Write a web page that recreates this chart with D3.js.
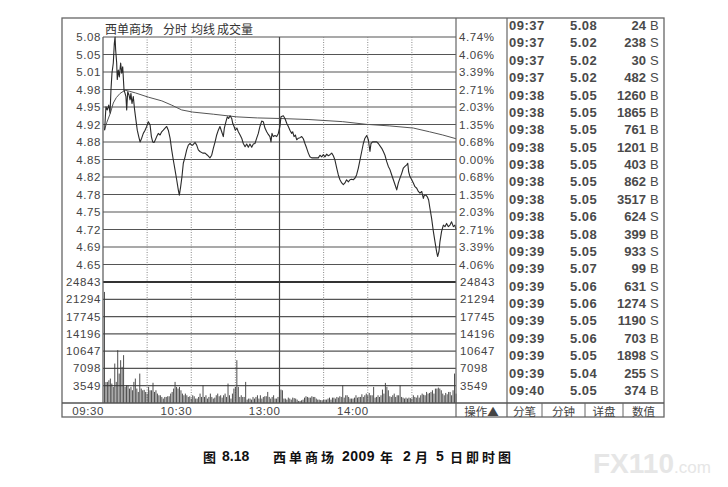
<!DOCTYPE html>
<html>
<head>
<meta charset="utf-8">
<script src="https://cdn.jsdelivr.net/npm/d3@7"></script>
<style>
  body { margin: 0; background: #fff; }
  svg { display: block; font-family: "Liberation Sans", Arial, sans-serif; }
</style>
</head>
<body>
<div id="chart"></div>
<script>
// ---- data ----
const prevClose = 4.85;
const maxPct = 4.74;

const priceLabels = ["5.08","5.05","5.01","4.98","4.95","4.92","4.88","4.85","4.82","4.78","4.75","4.72","4.69","4.65"];
const pctLabels = ["4.74%","4.06%","3.39%","2.71%","2.03%","1.35%","0.68%","0.00%","0.68%","1.35%","2.03%","2.71%","3.39%","4.06%"];
const volTicks = [3549, 7098, 10647, 14196, 17745, 21294, 24843];
const timeTicks = [0, 60, 120, 180];
const timeLabels = ["09:30", "10:30", "13:00", "14:00"];
const gridMinutes = [30, 60, 90, 120, 150, 180, 210];

// minute (from 09:30) and price of the intraday line
const priceMin = [1.1,2.0,2.9,3.9,4.8,5.4,6.1,7.0,7.7,8.2,8.6,9.3,9.7,10.4,11.1,12.0,12.7,13.4,14.3,15.0,15.6,16.1,16.8,17.7,18.4,19.0,19.7,20.6,21.5,22.4,23.3,24.3,25.2,26.3,27.4,28.6,29.7,30.8,32.0,32.9,33.8,34.7,35.6,36.5,37.6,38.8,39.9,41.0,42.2,43.3,44.4,45.6,46.7,47.8,49.0,50.1,51.2,51.9,52.8,53.7,54.6,55.8,56.9,58.0,59.2,60.3,61.0,62.6,63.7,64.8,65.9,67.8,69.4,71.0,72.7,73.9,75.0,76.2,77.3,78.4,79.5,80.7,81.8,82.5,83.6,84.5,85.4,86.4,87.5,88.2,89.1,90.0,91.0,92.0,93.2,94.3,95.4,96.6,97.7,98.8,99.9,101.1,102.2,103.3,104.5,105.6,106.7,107.9,109.0,110.1,111.3,112.4,113.5,114.2,114.9,115.8,116.9,118.1,119.2,120.3,121.0,122.6,123.7,124.9,126.0,127.1,128.3,129.0,129.9,130.8,131.7,132.8,133.9,135.1,136.2,137.3,138.5,139.6,140.7,141.9,144.1,146.4,147.5,148.7,149.8,150.9,152.1,153.2,154.3,155.5,156.6,157.7,158.9,160.0,161.1,162.3,163.4,164.5,165.6,166.8,167.9,169.0,170.2,171.3,172.4,173.6,174.7,175.9,177.0,178.1,179.3,180.4,181.5,182.2,183.3,186.1,187.2,189.5,190.6,191.7,192.9,194.0,195.1,196.3,197.4,198.5,199.7,200.8,201.9,203.1,204.2,205.3,206.5,207.2,207.8,208.7,209.9,211.0,212.1,213.3,214.4,215.5,216.7,217.8,218.5,219.6,220.5,221.4,222.3,223.4,224.6,225.7,226.8,227.5,228.4,229.1,230.2,231.4,232.5,233.6,234.8,235.9,237.0,238.2,239.3,240];
const priceVal = [4.905,4.949,4.943,4.952,4.937,4.980,5.012,5.031,5.068,5.080,5.056,5.031,5.000,5.018,5.005,5.031,5.012,5.024,4.980,4.974,4.968,4.943,4.977,4.971,4.962,4.974,4.955,4.968,4.943,4.924,4.905,4.893,4.883,4.890,4.899,4.905,4.912,4.921,4.915,4.893,4.883,4.882,4.887,4.893,4.899,4.896,4.902,4.905,4.909,4.912,4.905,4.890,4.868,4.849,4.830,4.812,4.793,4.783,4.799,4.818,4.843,4.855,4.868,4.877,4.880,4.877,4.877,4.882,4.877,4.868,4.865,4.862,4.862,4.858,4.853,4.858,4.871,4.883,4.896,4.905,4.912,4.902,4.893,4.909,4.921,4.930,4.927,4.932,4.927,4.918,4.912,4.905,4.909,4.902,4.896,4.890,4.880,4.874,4.879,4.873,4.879,4.873,4.879,4.880,4.890,4.899,4.912,4.922,4.921,4.909,4.902,4.897,4.893,4.883,4.899,4.893,4.895,4.893,4.899,4.912,4.930,4.932,4.927,4.918,4.912,4.905,4.899,4.902,4.893,4.896,4.887,4.890,4.891,4.893,4.889,4.880,4.871,4.862,4.855,4.853,4.853,4.853,4.858,4.855,4.859,4.855,4.860,4.857,4.859,4.862,4.857,4.849,4.834,4.821,4.812,4.806,4.803,4.806,4.812,4.808,4.812,4.813,4.812,4.815,4.821,4.834,4.849,4.865,4.880,4.890,4.895,4.887,4.865,4.880,4.883,4.883,4.880,4.871,4.865,4.858,4.846,4.837,4.831,4.821,4.812,4.803,4.793,4.806,4.815,4.824,4.834,4.837,4.840,4.843,4.827,4.818,4.812,4.806,4.799,4.796,4.790,4.787,4.790,4.777,4.783,4.783,4.780,4.774,4.758,4.740,4.715,4.696,4.677,4.668,4.677,4.696,4.715,4.727,4.724,4.730,4.724,4.727,4.733,4.724,4.727,4.718];

// average price line (均线)
const avgMin = [1,2.5,5,7,9,11.6,15,18,22,30.8,40,46.7,53.5,61,75,91,105,120,140,163,179,195,211,222,231,240];
const avgVal = [4.905,4.919,4.937,4.956,4.966,4.974,4.980,4.978,4.975,4.967,4.960,4.952,4.943,4.939,4.935,4.930,4.928,4.927,4.925,4.921,4.916,4.913,4.909,4.902,4.896,4.889];

// volume per minute (成交量)
const volumes = [
  22800,4300,4330,4670,5015,3990,3300,8100,4330,10850,
  6040,8790,7415,9820,3300,3640,3640,2960,3300,2620,
  4330,5015,2960,2270,6040,2960,2610,2700,2270,1930,
  3300,2610,2610,4150,2270,2610,1930,1585,1585,1240,
  905,1240,1240,1380,1380,1930,2270,2960,4330,3300,
  2960,3300,2610,1930,1585,1930,1585,1240,1380,905,
  1585,1380,905,905,1240,1930,1240,3640,1240,1585,
  905,1240,1930,1240,905,1105,1585,1930,1380,1585,
  1105,1585,1930,1240,3990,1585,905,1930,2960,3300,
  8790,3300,1240,1585,1240,1240,4330,694,905,905,
  694,1240,905,1240,1585,905,1585,905,1240,1380,
  1385,2270,1240,905,1240,1585,905,905,1240,905,
  2750,2610,905,905,694,1105,905,694,1105,1000,
  905,694,420,420,556,694,1105,1380,1240,1105,
  1105,1380,1240,1240,905,694,694,600,556,694,
  694,694,905,1105,694,1105,1105,905,1240,1105,
  1380,1240,3640,1105,1585,1585,1240,905,905,905,
  1105,1585,1105,1240,1240,1790,1240,1585,1930,1585,
  2065,1585,1585,3300,1105,1240,1585,1240,1585,2750,
  1930,4120,3300,2610,1380,1240,1585,1930,1240,1585,
  1585,3640,1240,1105,905,1105,905,1105,1000,905,
  1585,1240,1105,1585,1105,1585,1930,1700,1585,2270,
  1930,2065,2270,2614,1930,2957,2957,3163,2957,2614,
  1930,1585,2065,1790,2270,2270,1585,2614,6044,1928
];

// tick-by-tick table (分笔)
const tradeTime = ["09:37","09:37","09:37","09:37","09:38","09:38","09:38","09:38","09:38","09:38","09:38","09:38","09:38","09:39","09:39","09:39","09:39","09:39","09:39","09:39","09:39","09:40"];
const tradePrice = ["5.08","5.02","5.02","5.02","5.05","5.05","5.05","5.05","5.05","5.05","5.05","5.06","5.08","5.05","5.07","5.06","5.06","5.05","5.06","5.05","5.04","5.05"];
const tradeVol = [24,238,30,482,1260,1865,761,1201,403,862,3517,624,399,933,99,631,1274,1190,703,1898,255,374];
const tradeSide = ["B","S","S","S","B","B","B","B","B","B","B","S","B","S","B","S","S","S","B","S","S","B"];

const titleParts = ["西单商场", "分时", "均线", "成交量"];
const buttons = ["分笔", "分钟", "详盘", "数值"];

// ---- layout ----
const W = 728, H = 487;
const frame = {left: 62, top: 18, right: 664, bottom: 417};
const plot = {left: 103, right: 456, top: 37, mid: 282, volBottom: 403};
const tableLeft = 507;
const ink = "#444";

const svg = d3.select("#chart").append("svg")
  .attr("width", W).attr("height", H);

const x = d3.scaleLinear().domain([0, 240]).range([plot.left, plot.right]);
const yP = d3.scaleLinear()
  .domain([prevClose * (1 - maxPct / 100), prevClose * (1 + maxPct / 100)])
  .range([plot.mid, plot.top]);
const yV = d3.scaleLinear().domain([0, 24843]).range([plot.volBottom, plot.mid]);

// price grid levels, top to bottom
const levels = d3.range(7, -7, -1).map(k => prevClose * (1 + k * maxPct / 700));

// horizontal grid
svg.append("g").selectAll("line")
  .data(levels)
  .enter().append("line")
  .attr("x1", plot.left).attr("x2", plot.right)
  .attr("y1", d => yP(d)).attr("y2", d => yP(d))
  .attr("stroke", "#555").attr("stroke-width", 1.2);

svg.append("g").selectAll("line")
  .data(volTicks.slice(0, -1))
  .enter().append("line")
  .attr("x1", plot.left).attr("x2", plot.right)
  .attr("y1", d => yV(d)).attr("y2", d => yV(d))
  .attr("stroke", "#555").attr("stroke-width", 1.2);

// vertical grid
svg.append("g").selectAll("line")
  .data(gridMinutes)
  .enter().append("line")
  .attr("x1", d => x(d)).attr("x2", d => x(d))
  .attr("y1", plot.top).attr("y2", plot.volBottom)
  .attr("stroke", d => d === 120 ? "#444" : "#888")
  .attr("stroke-width", d => d === 120 ? 1.2 : 1)
  .attr("stroke-dasharray", d => d === 120 ? null : "1,1.5");

// divider between price and volume
svg.append("line")
  .attr("x1", plot.left).attr("x2", plot.right)
  .attr("y1", plot.mid).attr("y2", plot.mid)
  .attr("stroke", "#333").attr("stroke-width", 2.2);

// volume bars
svg.append("g").selectAll("line")
  .data(volumes)
  .enter().append("line")
  .attr("x1", (d, i) => x(i + 1)).attr("x2", (d, i) => x(i + 1))
  .attr("y1", yV(0)).attr("y2", d => yV(d))
  .attr("stroke", "#3a3a3a").attr("stroke-width", 0.9);

// average line
const avgData = avgMin.map((m, i) => [m, avgVal[i]]);
svg.append("path")
  .datum(avgData)
  .attr("fill", "none").attr("stroke", "#555").attr("stroke-width", 1)
  .attr("d", d3.line().x(d => x(d[0])).y(d => yP(d[1])));

// price line
const priceData = priceMin.map((m, i) => [m, priceVal[i]]);
svg.append("path")
  .datum(priceData)
  .attr("fill", "none").attr("stroke", "#2a2a2a").attr("stroke-width", 1.1)
  .attr("stroke-linejoin", "round")
  .attr("d", d3.line().x(d => x(d[0])).y(d => yP(d[1])));

// frame and panel lines
svg.append("rect")
  .attr("x", frame.left).attr("y", frame.top)
  .attr("width", frame.right - frame.left).attr("height", frame.bottom - frame.top)
  .attr("fill", "none").attr("stroke", "#666").attr("stroke-width", 1.3);
svg.append("line")
  .attr("x1", plot.left).attr("x2", plot.left).attr("y1", plot.top).attr("y2", plot.volBottom)
  .attr("stroke", "#555").attr("stroke-width", 1.2);
[plot.right, tableLeft].forEach(v => {
  svg.append("line")
    .attr("x1", v).attr("x2", v).attr("y1", frame.top).attr("y2", frame.bottom)
    .attr("stroke", "#666").attr("stroke-width", 1.2);
});
svg.append("line")
  .attr("x1", frame.left).attr("x2", frame.right).attr("y1", plot.volBottom).attr("y2", plot.volBottom)
  .attr("stroke", "#555").attr("stroke-width", 1.3);

// axis labels
const axisFont = g => g.attr("font-size", 11.5).attr("fill", ink)
  .attr("letter-spacing", 0.6).attr("dominant-baseline", "central");

svg.append("g").call(axisFont).selectAll("text")
  .data(levels)
  .enter().append("text")
  .attr("x", plot.left - 2).attr("y", d => yP(d))
  .attr("text-anchor", "end")
  .text((d, i) => priceLabels[i]);

svg.append("g").call(axisFont).selectAll("text")
  .data(levels)
  .enter().append("text")
  .attr("x", plot.right + 3).attr("y", d => yP(d))
  .text((d, i) => pctLabels[i]);

svg.append("g").call(axisFont).selectAll("text")
  .data(volTicks)
  .enter().append("text")
  .attr("x", plot.left - 2).attr("y", d => yV(d))
  .attr("text-anchor", "end")
  .text(d => d);

svg.append("g").call(axisFont).selectAll("text")
  .data(volTicks)
  .enter().append("text")
  .attr("x", plot.right + 4).attr("y", d => yV(d))
  .text(d => d);

svg.append("g").call(axisFont).selectAll("text")
  .data(timeTicks)
  .enter().append("text")
  .attr("x", d => x(d) + 1).attr("y", 411)
  .attr("text-anchor", "end")
  .text((d, i) => timeLabels[i]);

// title in plot
const titleX = [105, 163, 191, 217];
svg.append("g")
  .attr("font-family", "'Noto Sans CJK SC', sans-serif")
  .attr("font-size", 12).attr("fill", "#333")
  .attr("dominant-baseline", "central")
  .selectAll("text")
  .data(titleParts)
  .enter().append("text")
  .attr("x", (d, i) => titleX[i]).attr("y", 28)
  .text(d => d);

// tick table
const row = d3.scalePoint().domain(d3.range(tradeTime.length)).range([25.5, 390.5]);
const table = svg.append("g")
  .attr("font-size", 13).attr("font-weight", "bold").attr("fill", "#4a4a4a")
  .attr("dominant-baseline", "central");

table.selectAll(".t").data(tradeTime).enter().append("text")
  .attr("letter-spacing", 0.5)
  .attr("x", 509).attr("y", (d, i) => row(i)).text(d => d);
table.selectAll(".p").data(tradePrice).enter().append("text")
  .attr("letter-spacing", 0.5)
  .attr("x", 570).attr("y", (d, i) => row(i)).text(d => d);
table.selectAll(".v").data(tradeVol).enter().append("text")
  .attr("x", 646).attr("y", (d, i) => row(i)).attr("text-anchor", "end").text(d => d);
table.selectAll(".s").data(tradeSide).enter().append("text")
  .attr("font-weight", "normal")
  .attr("x", 650).attr("y", (d, i) => row(i)).text(d => d);

// bottom buttons
const btnEdges = [tableLeft, 542, 585, 623, frame.right];
svg.append("g").selectAll("line")
  .data(btnEdges.slice(1, -1))
  .enter().append("line")
  .attr("x1", d => d).attr("x2", d => d).attr("y1", plot.volBottom).attr("y2", frame.bottom)
  .attr("stroke", "#666");
svg.append("g")
  .attr("font-family", "'Noto Sans CJK SC', sans-serif")
  .attr("font-size", 11.5).attr("fill", "#444")
  .attr("dominant-baseline", "central").attr("text-anchor", "middle")
  .selectAll("text")
  .data(buttons)
  .enter().append("text")
  .attr("x", (d, i) => (btnEdges[i] + btnEdges[i + 1]) / 2)
  .attr("y", 410.5)
  .text(d => d);
svg.append("text")
  .attr("x", (plot.right + tableLeft) / 2).attr("y", 410.5)
  .attr("font-family", "'Noto Sans CJK SC', sans-serif")
  .attr("font-size", 11.5).attr("fill", "#444")
  .attr("dominant-baseline", "central").attr("text-anchor", "middle")
  .text("操作▲");

// caption
const cap = svg.append("text")
  .attr("y", 456)
  .attr("font-family", "'Noto Sans CJK SC', sans-serif")
  .attr("font-size", 13).attr("font-weight", "bold").attr("fill", "#111")
  .attr("dominant-baseline", "central");
cap.append("tspan").attr("x", 203).text("图");
cap.append("tspan").attr("x", 222).attr("font-family", "'Liberation Sans', Arial, sans-serif").attr("font-size", 14).text("8.18");
cap.append("tspan").attr("x", 273).attr("letter-spacing", 3).text("西单商场");
cap.append("tspan").attr("x", 342).attr("font-family", "'Liberation Sans', Arial, sans-serif").attr("font-size", 14).attr("letter-spacing", 0.5).text("2009");
cap.append("tspan").attr("x", 380).text("年");
cap.append("tspan").attr("x", 403).attr("font-family", "'Liberation Sans', Arial, sans-serif").attr("font-size", 14).text("2");
cap.append("tspan").attr("x", 415).text("月");
cap.append("tspan").attr("x", 436).attr("font-family", "'Liberation Sans', Arial, sans-serif").attr("font-size", 14).text("5");
cap.append("tspan").attr("x", 450).attr("letter-spacing", 3).text("日即时图");

// watermark
const wm = svg.append("text")
  .attr("x", 593).attr("y", 473)
  .attr("font-family", "'Liberation Sans', Arial, sans-serif")
  .attr("font-weight", "bold").attr("fill", "#e6e6e6");
wm.append("tspan").attr("font-size", 28).text("FX110");
wm.append("tspan").attr("font-size", 17).attr("font-weight", "normal").text(".com");
</script>
</body>
</html>
